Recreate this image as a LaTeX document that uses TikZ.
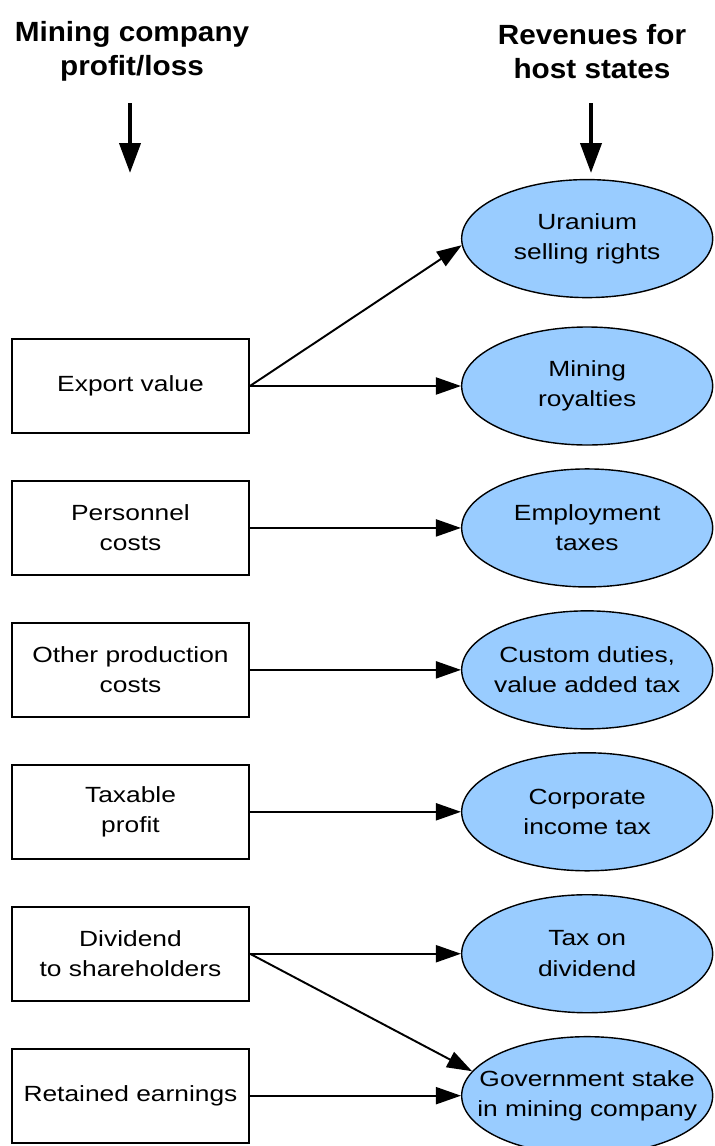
\documentclass[tikz,border=0pt]{standalone}
\usepackage{fontspec}
\setmainfont{Liberation Sans}[FakeStretch=1.2]
\newfontfamily\headfont{Liberation Sans}[FakeStretch=1.07]
\usetikzlibrary{shapes.geometric, arrows.meta, positioning}
\tikzset{>={Stealth}}
\definecolor{revblue}{RGB}{153,204,255}

\begin{document}
\begin{tikzpicture}[
  node distance=0.92cm and 4.22cm,
  cost/.style={rectangle,draw,line width=1.1pt,minimum width=4.74cm,minimum height=1.88cm,align=center,font=\fontsize{12.5}{17.3}\selectfont},
  rev/.style={ellipse,draw,line width=0.8pt,fill=revblue,minimum width=5.02cm,minimum height=2.36cm,inner xsep=-14pt,inner ysep=0pt,align=center,font=\fontsize{12.5}{17.3}\selectfont},
  head/.style={align=center,font=\headfont\bfseries\fontsize{15.8}{19}\selectfont},
  flow/.style={-{Triangle[length=0.5cm,width=0.34cm]},line width=1.1pt},
  big/.style={-{Triangle[length=0.6cm,width=0.42cm]},line width=2.3pt}
]
  \useasboundingbox (0,0) rectangle (14.3,-22.92);

  % Headings
  \node[head] (lhead) at (2.64,-1.03) {Mining company\\profit/loss};
  \node[head] (rhead) at (11.84,-1.03) {Revenues for\\host states};
  \coordinate (ltop) at (2.6,-2.06);
  \coordinate (lbot) at (2.6,-3.46);
  \coordinate (rtop) at (11.82,-2.06);
  \coordinate (rbot) at (11.82,-3.46);
  \draw[big] (ltop) -- (lbot);
  \draw[big] (rtop) -- (rbot);

  % Company side
  \node[cost] (export) at (2.61,-7.72) {Export value};
  \node[cost, below=of export] (personnel) {Personnel\\costs};
  \node[cost, below=of personnel] (other) {Other production\\costs};
  \node[cost, below=of other] (taxable) {Taxable\\profit};
  \node[cost, below=of taxable] (dividend) {Dividend\\to shareholders};
  \node[cost, below=of dividend] (retained) {Retained earnings};

  % Host state side
  \node[rev, right=of export] (royalty) {Mining\\royalties};
  \node[rev, above=0.56cm of royalty] (uranium) {Uranium\\selling rights};
  \node[rev, right=of personnel] (employ) {Employment\\taxes};
  \node[rev, right=of other] (duties) {Custom duties,\\value added tax};
  \node[rev, right=of taxable] (income) {Corporate\\income tax};
  \node[rev, right=of dividend] (divtax) {Tax on\\dividend};
  \node[rev, right=of retained] (stake) {Government stake\\in mining company};

  % Flows
  \draw[flow] (export.east) -- (uranium.183);
  \draw[flow] (export) -- (royalty);
  \draw[flow] (personnel) -- (employ);
  \draw[flow] (other) -- (duties);
  \draw[flow] (taxable) -- (income);
  \draw[flow] (dividend) -- (divtax);
  \draw[flow] (dividend.east) -- (stake.168);
  \draw[flow] (retained) -- (stake);
\end{tikzpicture}
\end{document}
